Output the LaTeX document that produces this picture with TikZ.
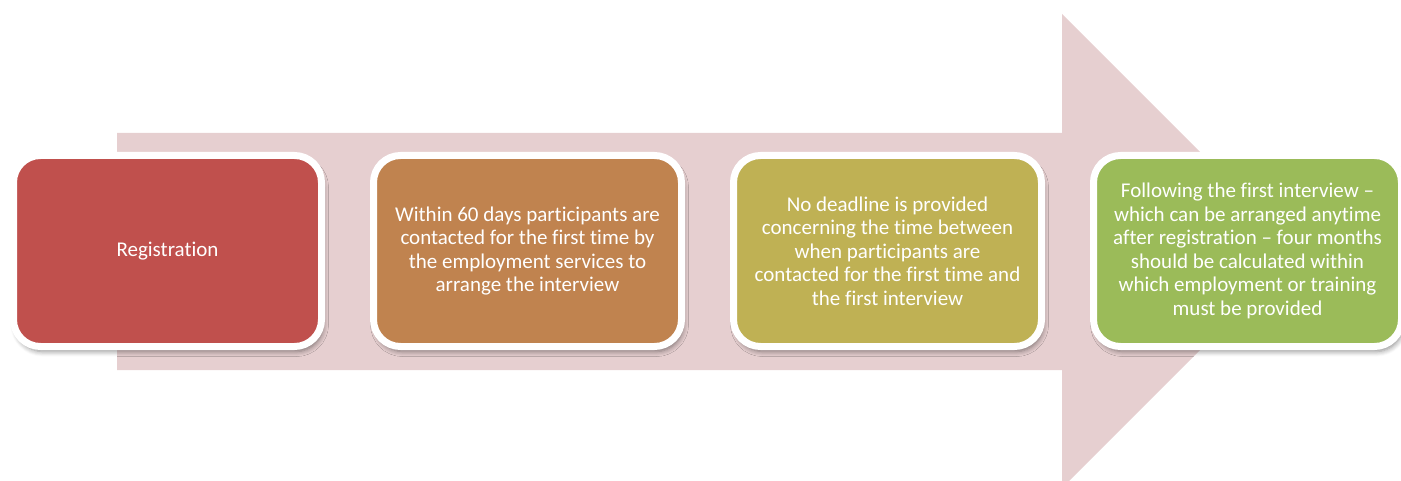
\documentclass[tikz,border=0pt]{standalone}
\usepackage{fontspec}
\setmainfont{Carlito}[Ligatures={NoCommon}]
\usetikzlibrary{shadows.blur}
\definecolor{arrowcol}{HTML}{E6CFD0}
\definecolor{c1}{HTML}{C0504D}
\definecolor{c2}{HTML}{C0834F}
\definecolor{c3}{HTML}{BFB154}
\definecolor{c4}{HTML}{9BBB59}
\tikzset{
  stepbox/.style={draw=white, line width=7pt, rounded corners=27pt,
    minimum width=308pt, minimum height=191pt, align=center, text=white,
    font=\fontsize{21}{23.5}\selectfont, inner sep=0pt,
    blur shadow={shadow xshift=2pt, shadow yshift=-5pt, shadow blur steps=6, shadow blur radius=5pt, shadow opacity=45}}
}
\begin{document}
\begin{tikzpicture}[x=1pt,y=-1pt]
\useasboundingbox (0,0) rectangle (1401,481);
\clip (0,0) rectangle (1401,481);
\fill[arrowcol] (117,133) -- (1062,133) -- (1062,14) -- (1299,251) -- (1062,488) -- (1062,370) -- (117,370) -- cycle;
\node[stepbox, fill=c1] (b1) at (167.5,251) {Registration};
\node[stepbox, fill=c2] (b2) at (527.5,251) {Within 60 days participants are\\contacted for the first time by\\the employment services to\\arrange the interview};
\node[stepbox, fill=c3] (b3) at (887.5,251) {No deadline is provided\\concerning the time between\\when participants are\\contacted for the first time and\\the first interview};
\node[stepbox, fill=c4] (b4) at (1247.5,251) {Following the first interview --\\which can be arranged anytime\\after registration -- four months\\should be calculated within\\which employment or training\\must be provided};
\end{tikzpicture}
\end{document}
